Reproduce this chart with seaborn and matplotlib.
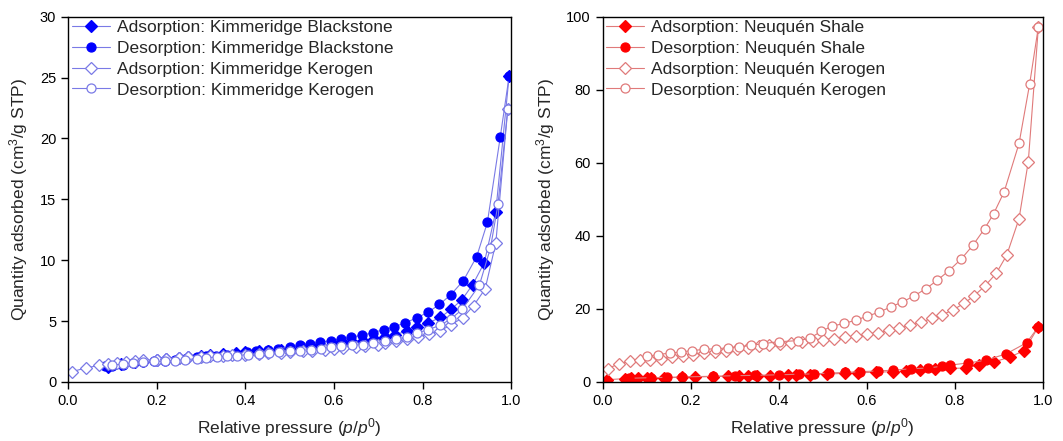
import matplotlib
matplotlib.use("Agg")
import matplotlib.pyplot as plt
import seaborn as sns

# Kimmeridge (left panel)
kb_ads_x = [0.09, 0.12, 0.15, 0.17, 0.20, 0.22, 0.25, 0.27, 0.30, 0.32, 0.35, 0.38, 0.40, 0.43, 0.45,
            0.48, 0.50, 0.53, 0.55, 0.57, 0.60, 0.62, 0.64, 0.665, 0.69, 0.714, 0.738, 0.764, 0.788,
            0.813, 0.84, 0.864, 0.889, 0.913, 0.939, 0.965, 0.995]
kb_ads_y = [1.25, 1.45, 1.60, 1.70, 1.80, 1.88, 1.97, 2.05, 2.12, 2.20, 2.27, 2.35, 2.42, 2.50, 2.57,
            2.65, 2.72, 2.80, 2.90, 2.98, 3.07, 3.17, 3.28, 3.40, 3.52, 3.67, 3.89, 4.16, 4.52,
            4.85, 5.30, 5.95, 6.77, 8.00, 9.78, 14.0, 25.1]
kb_des_x = [0.995, 0.975, 0.946, 0.922, 0.892, 0.864, 0.838, 0.813, 0.787, 0.76, 0.736, 0.712, 0.687,
            0.663, 0.638, 0.616, 0.593, 0.568, 0.546, 0.523, 0.50, 0.474, 0.452, 0.425, 0.403, 0.38,
            0.358, 0.334, 0.311, 0.29, 0.264, 0.241, 0.218, 0.194, 0.17, 0.147, 0.124, 0.10, 0.083]
kb_des_y = [25.1, 20.1, 13.1, 10.3, 8.33, 7.18, 6.36, 5.75, 5.26, 4.85, 4.52, 4.30, 4.03,
            3.84, 3.67, 3.53, 3.40, 3.26, 3.12, 3.00, 2.85, 2.74, 2.60, 2.52, 2.44, 2.33,
            2.25, 2.16, 2.10, 2.03, 1.92, 1.84, 1.75, 1.70, 1.62, 1.56, 1.42, 1.34, 1.29]
kk_ads_x = [0.01, 0.04, 0.07, 0.09, 0.11, 0.13, 0.15, 0.17, 0.20, 0.22, 0.25, 0.27, 0.30, 0.32, 0.35,
            0.37, 0.40, 0.43, 0.45, 0.48, 0.50, 0.53, 0.55, 0.58, 0.60, 0.62, 0.65, 0.67, 0.70,
            0.715, 0.74, 0.765, 0.79, 0.815, 0.84, 0.864, 0.89, 0.915, 0.941, 0.965, 0.992]
kk_ads_y = [0.85, 1.15, 1.35, 1.45, 1.55, 1.62, 1.70, 1.76, 1.84, 1.90, 1.96, 2.01, 2.06, 2.10, 2.15,
            2.19, 2.24, 2.30, 2.35, 2.40, 2.45, 2.50, 2.55, 2.62, 2.68, 2.75, 2.85, 2.93, 3.05,
            3.18, 3.35, 3.50, 3.70, 3.95, 4.20, 4.70, 5.26, 6.27, 7.64, 11.4, 22.4]
kk_des_x = [0.992, 0.97, 0.953, 0.928, 0.889, 0.864, 0.84, 0.813, 0.788, 0.764, 0.74, 0.714, 0.689,
            0.665, 0.64, 0.616, 0.593, 0.571, 0.547, 0.523, 0.50, 0.477, 0.454, 0.43, 0.405, 0.381,
            0.358, 0.335, 0.311, 0.29, 0.264, 0.241, 0.218, 0.194, 0.17, 0.147, 0.124, 0.10]
kk_des_y = [22.4, 14.6, 11.0, 7.95, 5.95, 5.18, 4.66, 4.30, 4.03, 3.70, 3.53, 3.34, 3.20,
            3.07, 3.00, 2.93, 2.85, 2.74, 2.66, 2.58, 2.52, 2.47, 2.38, 2.30, 2.25, 2.16,
            2.10, 2.05, 1.97, 1.89, 1.84, 1.75, 1.70, 1.68, 1.62, 1.56, 1.48, 1.37]

# Neuquen (right panel)
ns_ads_x = [0.01, 0.05, 0.065, 0.08, 0.10, 0.11, 0.14, 0.18, 0.21, 0.25, 0.285, 0.31, 0.33, 0.35,
            0.38, 0.42, 0.44, 0.47, 0.51, 0.55, 0.58, 0.62, 0.66, 0.69, 0.72, 0.755, 0.79, 0.825,
            0.855, 0.89, 0.925, 0.958, 0.99]
ns_ads_y = [0.6, 0.9, 0.95, 1.0, 1.05, 1.1, 1.15, 1.25, 1.35, 1.45, 1.55, 1.6, 1.65, 1.7,
            1.75, 1.8, 1.85, 1.95, 2.15, 2.35, 2.5, 2.65, 2.8, 3.0, 3.2, 3.4, 3.7, 3.8,
            4.6, 5.5, 6.8, 8.6, 15.1]
ns_des_x = [0.99, 0.963, 0.917, 0.87, 0.83, 0.79, 0.77, 0.74, 0.70, 0.66, 0.625, 0.585, 0.55,
            0.515, 0.48, 0.445, 0.40, 0.345, 0.30, 0.25, 0.18, 0.145, 0.11, 0.06]
ns_des_y = [15.1, 10.7, 7.7, 5.9, 5.2, 4.6, 4.3, 3.8, 3.6, 3.2, 3.0, 2.8, 2.6,
            2.4, 2.2, 2.1, 1.95, 1.8, 1.7, 1.55, 1.35, 1.25, 1.15, 1.0]
nk_ads_x = [0.011, 0.038, 0.062, 0.085, 0.107, 0.132, 0.157, 0.182, 0.206, 0.23, 0.255, 0.281, 0.304,
            0.33, 0.356, 0.378, 0.402, 0.427, 0.452, 0.477, 0.50, 0.525, 0.55, 0.575, 0.601, 0.626,
            0.65, 0.673, 0.699, 0.724, 0.748, 0.772, 0.797, 0.821, 0.843, 0.868, 0.894, 0.918,
            0.946, 0.967, 0.99]
nk_ads_y = [3.65, 5.0, 5.7, 5.9, 6.1, 6.4, 6.8, 7.2, 7.5, 7.8, 8.2, 8.6, 9.0,
            9.3, 9.8, 10.0, 10.4, 10.7, 11.0, 11.1, 11.6, 11.8, 12.2, 12.5, 13.2, 13.4,
            14.3, 14.8, 15.5, 16.4, 17.4, 18.4, 19.8, 21.5, 23.5, 26.2, 29.7, 34.7,
            44.7, 60.3, 97.3]
nk_des_x = [0.99, 0.97, 0.946, 0.912, 0.888, 0.868, 0.841, 0.815, 0.787, 0.76, 0.734, 0.707, 0.681,
            0.654, 0.628, 0.601, 0.575, 0.548, 0.522, 0.497, 0.47, 0.443, 0.40, 0.365, 0.337,
            0.31, 0.284, 0.257, 0.231, 0.204, 0.178, 0.153, 0.126, 0.10]
nk_des_y = [97.3, 81.5, 65.3, 52.0, 46.0, 42.0, 37.4, 33.7, 30.5, 27.8, 25.5, 23.5, 21.9,
            20.5, 19.1, 18.0, 16.9, 16.0, 15.3, 13.9, 11.9, 11.3, 11.0, 10.5, 10.0,
            9.6, 9.3, 9.1, 8.9, 8.6, 8.2, 7.9, 7.5, 7.0]

sns.set_style("ticks")
plt.rcParams["font.family"] = ["Liberation Sans", "DejaVu Sans"]
plt.rcParams["mathtext.fontset"] = "custom"
plt.rcParams["mathtext.rm"] = "Liberation Sans"
plt.rcParams["mathtext.it"] = "Liberation Sans:italic"
plt.rcParams["axes.edgecolor"] = "black"
plt.rcParams["xtick.color"] = "black"
plt.rcParams["ytick.color"] = "black"

fig = plt.figure(figsize=(10.63, 4.41), dpi=100)
ax1 = fig.add_axes([0.064, 0.134, 0.417, 0.828])
ax2 = fig.add_axes([0.567, 0.134, 0.414, 0.828])


def draw(ax, x, y, marker, fill, main, line, label):
    sns.lineplot(x=x, y=y, ax=ax, sort=False, estimator=None, color=line, lw=0.8,
                 marker=marker, markersize=6 if marker == "D" else 6.5,
                 markerfacecolor=main if fill else "white",
                 markeredgecolor=main if fill else line, markeredgewidth=0.9,
                 label=label)


blue, blue_line = "#0000ff", "#7a7ae6"
draw(ax1, kb_ads_x, kb_ads_y, "D", True, blue, blue_line, "Adsorption: Kimmeridge Blackstone")
draw(ax1, kb_des_x, kb_des_y, "o", True, blue, blue_line, "Desorption: Kimmeridge Blackstone")
draw(ax1, kk_ads_x, kk_ads_y, "D", False, blue, blue_line, "Adsorption: Kimmeridge Kerogen")
draw(ax1, kk_des_x, kk_des_y, "o", False, blue, blue_line, "Desorption: Kimmeridge Kerogen")

red, red_line = "#ff0000", "#e07a7a"
draw(ax2, ns_ads_x, ns_ads_y, "D", True, red, red_line, "Adsorption: Neuquén Shale")
draw(ax2, ns_des_x, ns_des_y, "o", True, red, red_line, "Desorption: Neuquén Shale")
draw(ax2, nk_ads_x, nk_ads_y, "D", False, red, red_line, "Adsorption: Neuquén Kerogen")
draw(ax2, nk_des_x, nk_des_y, "o", False, red, red_line, "Desorption: Neuquén Kerogen")

for ax, ymax, step in [(ax1, 30, 5), (ax2, 100, 20)]:
    ax.set_xlim(0, 1)
    ax.set_ylim(0, ymax)
    ax.set_xticks([0, 0.2, 0.4, 0.6, 0.8, 1.0])
    ax.set_xticklabels(["0.0", "0.2", "0.4", "0.6", "0.8", "1.0"])
    ax.set_yticks(range(0, ymax + 1, step))
    ax.tick_params(direction="out", length=5, width=1, labelsize=10.5)
    for s in ax.spines.values():
        s.set_linewidth(1)
        s.set_color("black")
    ax.set_xlabel(r"Relative pressure ($p/p^0$)", fontsize=12.5, labelpad=6)
    ax.set_ylabel(r"Quantity adsorbed (cm$^3$/g STP)", fontsize=12.5, labelpad=7)
    ax.legend(loc="upper left", frameon=False, fontsize=12.5, handlelength=2.2,
              borderaxespad=0.05, borderpad=0.15, labelspacing=0.32, handletextpad=0.4)

fig.savefig("out.png", dpi=100)
